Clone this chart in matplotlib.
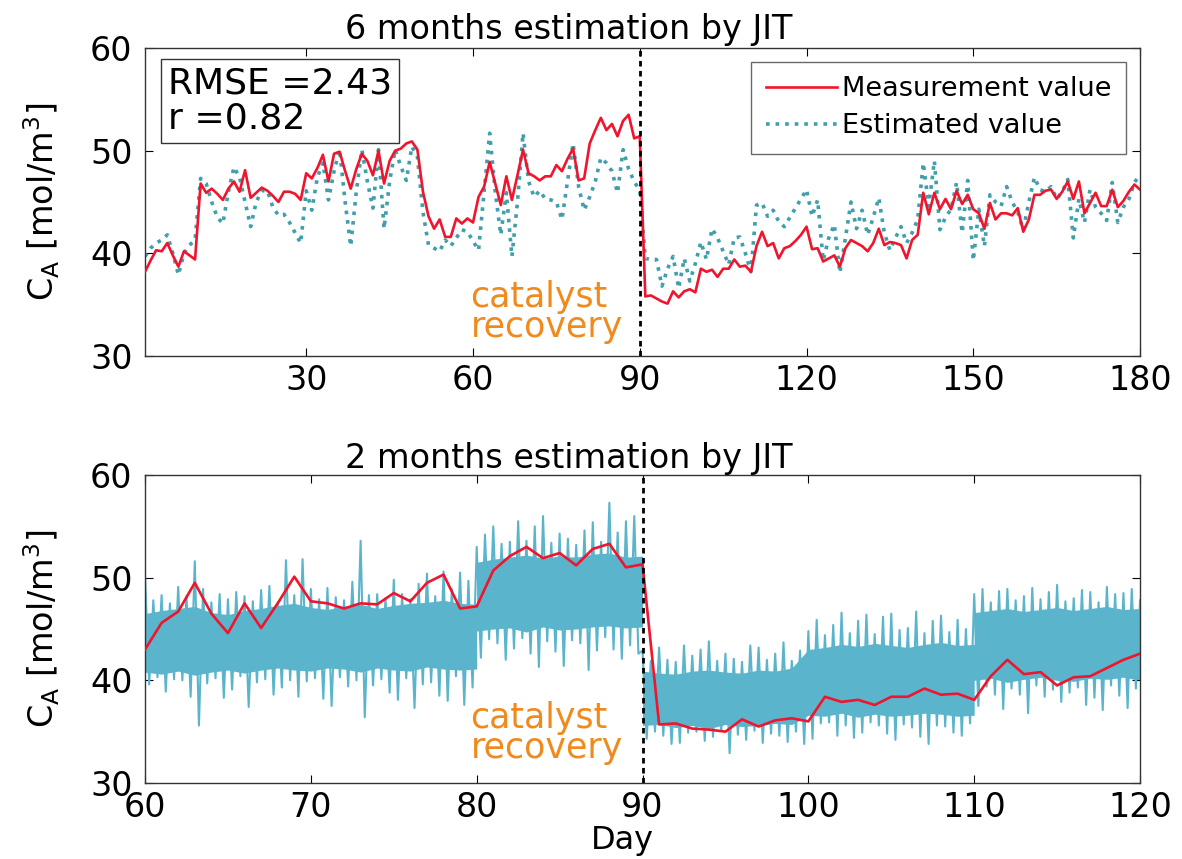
import numpy as np
import matplotlib.pyplot as plt

plt.rcParams['font.family'] = ['DejaVu Sans']
plt.rcParams['mathtext.default'] = 'regular'

# daily values, day 1..180
days = np.arange(1, 181)
measured = [
    38.2, 39.3, 40.3, 40.2, 41.0, 39.8, 38.7, 40.2, 39.8, 39.4,
    46.8, 45.9, 46.3, 45.8, 45.2, 46.3, 47.0, 46.0, 48.1, 45.4,
    45.9, 46.4, 46.1, 45.6, 45.0, 46.0, 46.0, 45.8, 45.2, 47.8,
    47.3, 48.3, 49.6, 47.0, 49.7, 49.9, 48.0, 46.3, 48.2, 49.7,
    49.0, 47.6, 50.0, 46.8, 49.0, 50.0, 50.2, 50.7, 50.9, 50.1,
    46.0, 43.6, 42.4, 43.3, 41.6, 41.6, 43.4, 42.9, 43.4, 43.0,
    45.5, 46.5, 48.9, 46.8, 44.7, 47.5, 45.2, 47.6, 50.1, 47.8,
    47.5, 47.1, 47.5, 47.5, 48.6, 48.0, 49.2, 50.2, 47.1, 47.3,
    50.7, 52.0, 53.2, 52.0, 52.6, 51.4, 52.9, 53.5, 51.2, 51.4,
    35.8, 35.9, 35.6, 35.3, 35.1, 36.3, 35.7, 36.3, 36.5, 36.2,
    38.5, 38.2, 38.4, 37.7, 38.5, 38.5, 39.4, 38.7, 38.8, 38.2,
    40.7, 42.1, 40.7, 41.0, 39.5, 40.5, 40.7, 41.2, 41.8, 42.6,
    40.4, 40.5, 39.2, 39.5, 39.8, 38.7, 40.5, 41.3, 41.0, 40.7,
    40.2, 41.0, 42.4, 40.8, 41.1, 41.0, 40.8, 39.5, 41.3, 41.8,
    45.9, 43.8, 45.9, 44.3, 45.3, 44.3, 46.1, 44.8, 45.7, 44.3,
    43.9, 42.4, 44.9, 43.3, 43.9, 43.9, 43.7, 44.4, 42.1, 43.3,
    45.7, 45.7, 46.1, 46.2, 45.3, 46.0, 47.0, 45.3, 47.0, 43.9,
    44.9, 45.9, 44.6, 44.6, 46.2, 44.5, 45.1, 46.0, 46.7, 46.2,
]
estimated = [
    39.7, 40.5, 41.0, 41.3, 41.8, 40.0, 37.9, 40.0, 40.8, 41.3,
    47.3, 46.8, 45.0, 43.5, 42.9, 46.0, 48.4, 47.4, 45.0, 42.6,
    45.0, 46.1, 46.1, 44.5, 43.7, 43.8, 43.0, 42.0, 41.0, 46.1,
    44.2, 47.4, 48.8, 45.2, 48.0, 50.1, 45.0, 40.7, 46.0, 50.1,
    47.0, 44.4, 50.1, 42.4, 47.0, 50.1, 48.5, 47.1, 50.4, 49.4,
    44.0, 40.8, 40.5, 40.2, 41.3, 40.7, 41.5, 42.3, 42.1, 41.2,
    40.3, 46.0, 51.7, 46.0, 41.8, 45.9, 39.7, 45.0, 51.7, 47.0,
    45.5, 46.1, 45.3, 45.2, 45.0, 43.3, 47.0, 50.7, 46.5, 44.2,
    45.5, 47.0, 49.3, 48.8, 48.0, 45.9, 50.1, 48.2, 47.0, 46.1,
    39.5, 39.4, 39.4, 36.8, 38.5, 39.7, 36.6, 39.5, 37.3, 39.0,
    41.1, 39.4, 42.4, 41.5, 40.2, 38.9, 41.5, 41.6, 40.0, 38.2,
    44.7, 44.9, 43.6, 44.2, 43.1, 42.6, 43.5, 44.4, 45.3, 46.2,
    43.6, 45.2, 39.3, 41.5, 42.8, 38.1, 41.5, 45.0, 42.4, 44.2,
    41.8, 43.5, 45.4, 42.0, 40.3, 41.5, 42.6, 41.0, 42.0, 43.3,
    48.8, 44.6, 49.0, 42.3, 43.5, 44.3, 46.9, 42.0, 47.1, 39.3,
    44.3, 40.7, 45.7, 45.0, 44.6, 46.5, 45.0, 44.0, 42.3, 45.0,
    47.4, 46.2, 46.0, 46.5, 45.3, 46.0, 47.2, 41.5, 45.3, 43.0,
    46.2, 44.5, 43.9, 43.2, 46.9, 43.0, 44.5, 45.3, 46.9, 47.7,
]

# two months: daily measurements, day 60..120
days2 = np.arange(60, 121)
measured2 = [
    43.0, 45.6, 46.7, 49.5, 46.5, 44.6, 47.5, 45.1, 47.5, 50.1,
    47.7, 47.5, 47.0, 47.5, 47.4, 48.5, 47.7, 49.5, 50.3, 47.0,
    47.2, 50.7, 52.1, 53.0, 51.9, 52.4, 51.2, 52.8, 53.3, 51.0,
    51.3, 35.7, 35.8, 35.3, 35.2, 35.0, 36.2, 35.5, 36.1, 36.3,
    36.0, 38.4, 37.9, 38.1, 37.6, 38.4, 38.4, 39.2, 38.6, 38.7,
    38.1, 40.4, 42.0, 40.6, 40.8, 39.5, 40.3, 40.4, 41.2, 42.0,
    42.6,
]

# 6-hourly JIT estimate (peaks and troughs), day 60.00 .. 120.00
est_6h = [
    50.2, 39.6, 47.8, 40.3, 48.3, 38.9, 47.5, 40.1, 49.1, 40.0, 48.2, 38.4,
    51.6, 35.6, 48.9, 39.7, 47.6, 40.2, 48.4, 38.3, 47.9, 39.1, 48.6, 40.4,
    48.2, 37.4, 47.7, 39.8, 48.8, 40.1, 49.2, 38.6, 47.6, 39.3, 51.7, 40.0,
    48.3, 38.4, 51.8, 39.9, 48.9, 40.2, 47.9, 38.2, 49.0, 37.5, 48.1, 40.3,
    47.8, 39.4, 49.6, 40.0, 53.6, 36.4, 48.3, 39.5, 48.4, 40.1, 48.0, 38.8,
    49.8, 38.1, 48.4, 40.2, 47.9, 37.3, 49.4, 39.6, 50.4, 39.8, 48.2, 38.5,
    50.6, 38.0, 48.9, 40.4, 50.5, 37.6, 49.7, 39.3,
    53.0, 42.2, 54.2, 44.0, 55.0, 43.6, 53.3, 42.0, 53.5, 43.1, 55.5, 44.1,
    53.6, 42.6, 55.0, 41.3, 56.0, 43.8, 53.4, 42.8, 54.3, 41.4, 53.8, 43.9,
    53.2, 43.6, 54.6, 41.0, 55.4, 42.9, 53.5, 44.2, 57.3, 43.0, 54.4, 42.1,
    55.5, 43.4, 56.0, 42.6,
    42.9, 34.3, 41.9, 35.0, 43.2, 34.6, 42.0, 33.8, 41.8, 33.9, 43.4, 34.9,
    42.4, 35.0, 43.0, 34.1, 43.8, 34.5, 41.9, 35.1, 42.6, 32.9, 42.1, 34.7,
    41.8, 34.2, 43.4, 35.1, 43.2, 33.9, 42.0, 34.8, 42.6, 34.6, 43.7, 34.0,
    41.9, 35.0, 42.9, 33.8,
    44.8, 34.3, 45.9, 35.8, 44.4, 35.9, 45.4, 34.6, 46.6, 35.6, 44.6, 34.4,
    45.8, 34.9, 46.4, 35.9, 44.5, 35.6, 46.2, 34.8, 46.5, 34.2, 44.9, 35.7,
    45.1, 35.4, 46.7, 34.5, 44.6, 33.8, 45.8, 35.6, 46.3, 35.5, 44.7, 34.9,
    45.9, 34.6, 45.0, 35.8,
    48.4, 37.5, 48.9, 39.4, 47.6, 38.6, 48.7, 37.2, 48.9, 39.2, 47.8, 38.6,
    48.2, 36.8, 49.0, 39.5, 47.9, 38.4, 48.6, 39.1, 49.3, 37.9, 47.7, 38.8,
    48.0, 39.3, 48.8, 37.6, 48.6, 38.3, 47.6, 37.1, 49.1, 39.5, 48.4, 38.5,
    48.5, 37.3, 48.9, 39.2, 47.8,
]
t_6h = 60 + np.arange(len(est_6h)) / 4

# dense core of the estimate, four stretches split at day 80, 90 and 110
core_days = np.concatenate([np.arange(60, 81), np.arange(80, 91),
                            np.arange(90, 111), np.arange(110, 121)])
core_hi = [
    46.5, 46.8, 47.0, 47.2, 46.6, 46.4, 46.8, 47.0, 47.3, 47.5, 47.1,
    46.9, 47.2, 47.4, 47.0, 47.3, 47.5, 47.6, 47.8, 47.5, 47.4,
    51.5, 51.8, 52.0, 52.2, 51.9, 52.1, 52.0, 52.3, 52.4, 52.0, 52.1,
    40.9, 40.7, 40.6, 40.9, 41.0, 40.8, 40.7, 41.0, 40.9, 41.2, 43.0,
    43.2, 43.5, 43.3, 43.6, 43.4, 43.2, 43.5, 43.7, 43.4, 43.5,
    46.6, 46.8, 47.0, 46.7, 46.9, 47.1, 46.8, 47.0, 47.2, 46.9, 47.0,
]
core_lo = [
    40.8, 40.6, 40.9, 40.5, 40.8, 41.0, 40.7, 41.0, 41.2, 41.0, 40.9,
    41.2, 41.1, 40.8, 41.2, 41.0, 40.9, 41.3, 41.1, 41.0, 41.1,
    44.8, 45.0, 45.1, 44.7, 45.2, 44.9, 45.0, 45.2, 45.3, 45.1, 45.2,
    35.6, 35.7, 35.4, 35.6, 35.3, 35.7, 35.5, 35.6, 35.8, 35.7, 36.6,
    36.5, 36.8, 36.4, 36.7, 36.5, 36.6, 36.8, 36.7, 36.5, 36.6,
    40.0, 40.2, 39.8, 40.1, 40.3, 40.0, 39.9, 40.2, 40.1, 40.3, 40.0,
]

red = '#f0142c'
teal = '#3f9faa'
cyan = '#5ab5cc'
orange = '#f08a1c'
fs = 24

fig = plt.figure(figsize=(11.82, 8.59), dpi=100)
ax1 = fig.add_axes([0.1227, 0.5856, 0.8418, 0.3585])
ax2 = fig.add_axes([0.1227, 0.0885, 0.8418, 0.3585])

ax1.plot(days, measured, color=red, lw=1.9, label='Measurement value', zorder=3)
ax1.plot(days, estimated, color=teal, lw=2.6, ls=':', label='Estimated value', zorder=2)
ax1.axvline(90, color='black', lw=2, ls=(0, (2, 1.6)), zorder=4)
ax1.set_xlim(1, 180)
ax1.set_xticks([30, 60, 90, 120, 150, 180])
leg = ax1.legend(loc='upper right', fontsize=19.5, handlelength=2.6, frameon=True,
                 fancybox=False, borderaxespad=0.5, labelspacing=0.4,
                 borderpad=0.55, handletextpad=0.2)
leg.get_frame().set_edgecolor('#444444')
leg.get_frame().set_linewidth(1.0)
ax1.text(0.023, 0.94, 'RMSE =2.43\nr =0.82', transform=ax1.transAxes,
         fontsize=26, va='top', ha='left', linespacing=1.05,
         bbox=dict(boxstyle='square,pad=0.2', fc='white', ec='#333333', lw=1))
ax1.text(0.327, 0.143, 'catalyst\nrecovery', transform=ax1.transAxes, color=orange,
         fontsize=25, ha='left', va='center', linespacing=0.85)
fig.text(0.481, 0.966, '6 months estimation by JIT', fontsize=24, ha='center', va='center')

ax2.fill_between(core_days, core_lo, core_hi, color=cyan, lw=0, zorder=1)
ax2.plot(t_6h, est_6h, color=cyan, lw=1.5, zorder=2)
ax2.plot(days2, measured2, color=red, lw=1.9, zorder=3)
ax2.axvline(90, color='black', lw=2, ls=(0, (2, 1.6)), zorder=4)
ax2.set_xlim(60, 120)
ax2.set_xticks(np.arange(60, 121, 10))
ax2.set_xlabel('Day', fontsize=23)
ax2.xaxis.set_label_coords(0.48, -0.135)
ax2.text(0.327, 0.162, 'catalyst\nrecovery', transform=ax2.transAxes, color=orange,
         fontsize=25, ha='left', va='center', linespacing=0.85)
fig.text(0.481, 0.466, '2 months estimation by JIT', fontsize=24, ha='center', va='center')

for ax in (ax1, ax2):
    ax.set_ylim(30, 60)
    ax.set_yticks([30, 40, 50, 60])
    ax.tick_params(direction='in', top=True, right=True, labelsize=fs,
                   length=6, width=0.8)
    ax.tick_params(axis='y', pad=9)
    ax.tick_params(axis='x', pad=6)
    ax.set_ylabel(r'C$_{A}$ [mol/m$^{3}$]', fontsize=24)
    ax.yaxis.set_label_coords(-0.083, 0.5)
    for s in ax.spines.values():
        s.set_linewidth(1.0)
        s.set_color('#333333')

fig.savefig('out.png', dpi=100)
